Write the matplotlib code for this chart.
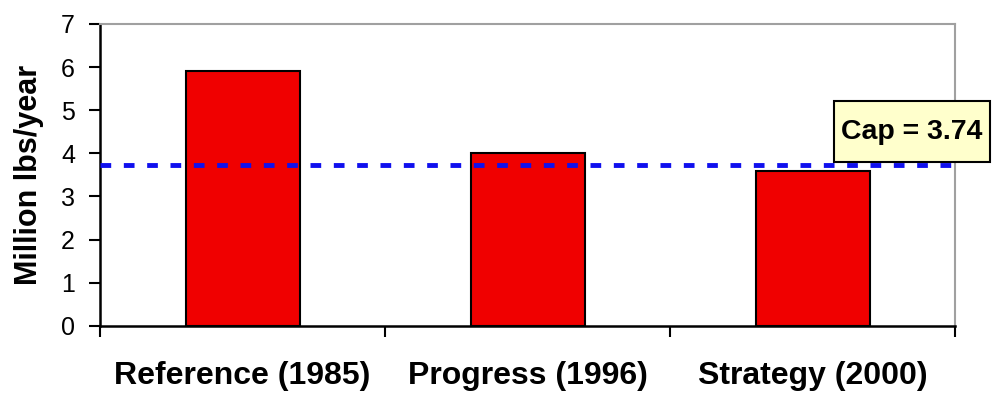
import matplotlib
matplotlib.use('Agg')
import matplotlib.pyplot as plt
from matplotlib.patches import Rectangle
import numpy as np

plt.rcParams['font.family'] = ['Liberation Sans', 'DejaVu Sans']

# dane wykresu
categories = ['Reference (1985)', 'Progress (1996)', 'Strategy (2000)']
values = [5.9, 4.0, 3.6]
cap = 3.74
cap_label = 'Cap = 3.74'

fig = plt.figure(figsize=(9.92, 3.98), dpi=100)
ax = fig.add_axes([0.1008, 0.181, 0.862, 0.759])

x = np.arange(len(categories))
ax.bar(x, values, width=0.4, color='#f00000', edgecolor='black', linewidth=1.5, zorder=2)

# linia limitu
ax.axhline(cap, color='#1010ee', linewidth=3.5, linestyle=(0, (2.2, 2.6)), zorder=3)

ax.set_xlim(-0.5, len(categories) - 0.5)
ax.set_ylim(0, 7)
ax.set_yticks(range(8))
ax.set_xticks(np.arange(len(categories) + 1) - 0.5)
ax.set_xticklabels([])
ax.set_xticks(x, minor=True)
ax.set_xticklabels(categories, minor=True, fontsize=23, fontweight='bold')
ax.tick_params(axis='x', which='minor', length=0, pad=25)
ax.tick_params(axis='x', which='major', direction='out', length=8, width=1.5)
ax.tick_params(axis='y', direction='out', length=8, width=1.5, labelsize=18, pad=10)

ax.set_ylabel('Million lbs/year', fontsize=22, fontweight='bold', labelpad=12)

for s in ['left', 'bottom']:
    ax.spines[s].set_linewidth(1.8)
    ax.spines[s].set_color('black')
for s in ['top', 'right']:
    ax.spines[s].set_linewidth(1.5)
    ax.spines[s].set_color('#a0a0a0')

# ramka z opisem limitu
box = Rectangle((0.8407, 0.593), 0.157, 0.153, transform=fig.transFigure,
                facecolor='#ffffcc', edgecolor='black', linewidth=1.5, zorder=5)
fig.add_artist(box)
fig.text(0.919, 0.669, cap_label, ha='center', va='center',
         fontsize=20.5, fontweight='bold', zorder=6)

fig.savefig('out.png', dpi=100)
